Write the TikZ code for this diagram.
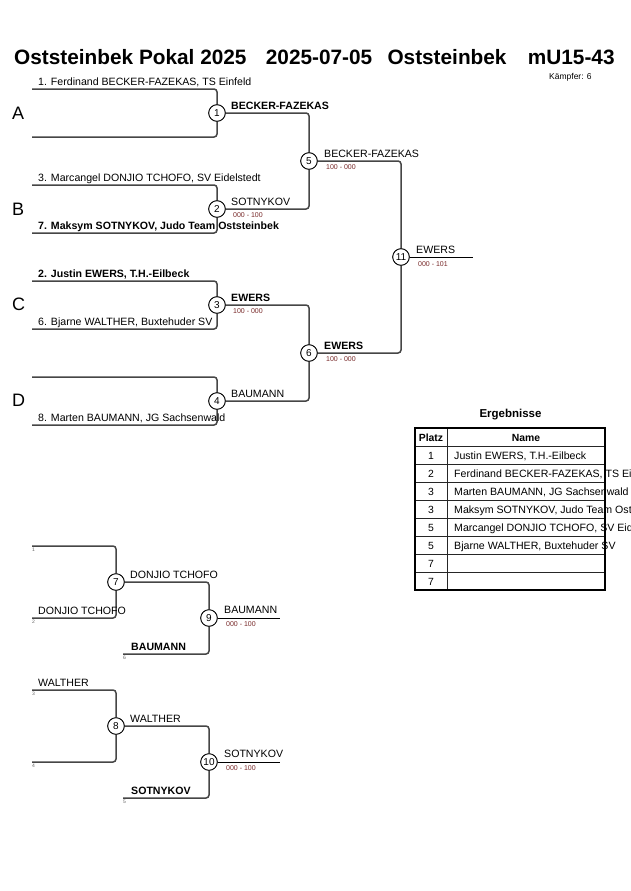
\documentclass[tikz,border=0pt]{standalone}
\usepackage{fontspec}
\setmainfont{Liberation Sans}
\definecolor{wirec}{RGB}{70,70,70}
\definecolor{scorec}{RGB}{120,40,40}
\begin{document}
\begin{tikzpicture}[x=1pt,y=-1pt,
  wire/.style={draw=wirec,line width=1.5pt,rounded corners=3pt},
  endwire/.style={draw=black,line width=1pt},
  match/.style={circle,draw=black,line width=0.8pt,fill=white,minimum size=16.5pt,inner sep=0pt,font=\fontsize{10}{10}\selectfont},
  nm/.style={anchor=base west,inner sep=0pt,font=\fontsize{10.6}{12}\selectfont},
  nmb/.style={nm,font=\fontsize{10.6}{12}\selectfont\bfseries},
  score/.style={anchor=base west,inner sep=0pt,text=scorec,font=\fontsize{7}{8}\selectfont},
  tiny/.style={anchor=base west,inner sep=0pt,text=black!60,font=\fontsize{5}{5}\selectfont},
  pool/.style={anchor=base west,inner sep=0pt,font=\fontsize{18}{20}\selectfont},
  ttl/.style={anchor=base west,inner sep=0pt,font=\fontsize{20.8}{22}\selectfont\bfseries},
  tcell/.style={anchor=base,inner sep=0pt,font=\fontsize{10.4}{12}\selectfont},
  tname/.style={anchor=base west,inner sep=0pt,font=\fontsize{10.6}{12}\selectfont}
]
\useasboundingbox[fill=white] (0,0) rectangle (630,891);

% title
\node[ttl] (t1) at (14,65) {Oststeinbek Pokal 2025};
\node[ttl] (t2) at (265.7,65) {2025-07-05};
\node[ttl] (t3) at (387.3,65) {Oststeinbek};
\node[ttl] (t4) at (527.7,65) {mU15-43};
\node[anchor=base west,inner sep=0pt,font=\fontsize{8.5}{10}\selectfont] (kf) at (549,79) {Kämpfer: 6};

% pool letters
\node[pool] (pA) at (12,119) {A};
\node[pool] (pB) at (12,215) {B};
\node[pool] (pC) at (12,310) {C};
\node[pool] (pD) at (12,406) {D};

% match circles
\node[match] (m1) at (217,113) {1};
\node[match] (m2) at (217,209) {2};
\node[match] (m3) at (217,305) {3};
\node[match] (m4) at (217,401) {4};
\node[match] (m5) at (309,161) {5};
\node[match] (m6) at (309,353) {6};
\node[match] (m11) at (401,257) {11};
\node[match] (m7) at (116,582) {7};
\node[match] (m8) at (116,726) {8};
\node[match] (m9) at (209,618) {9};
\node[match] (m10) at (209,762) {10};

% competitor line starts
\coordinate (a1) at (32,89);
\coordinate (a2) at (32,137);
\coordinate (b1) at (32,185);
\coordinate (b2) at (32,233);
\coordinate (c1) at (32,281);
\coordinate (c2) at (32,329);
\coordinate (d1) at (32,377);
\coordinate (d2) at (32,425);
\coordinate (r1) at (32,546);
\coordinate (r2) at (32,618);
\coordinate (r6) at (123,654);
\coordinate (r3) at (32,690);
\coordinate (r4) at (32,762);
\coordinate (r5) at (123,798);
\coordinate (e11) at (473,257);
\coordinate (e9) at (280,618);
\coordinate (e10) at (280,762);

% wires
\draw[wire] (a1) -| (m1);
\draw[wire] (a2) -| (m1);
\draw[wire] (b1) -| (m2);
\draw[wire] (b2) -| (m2);
\draw[wire] (c1) -| (m3);
\draw[wire] (c2) -| (m3);
\draw[wire] (d1) -| (m4);
\draw[wire] (d2) -| (m4);
\draw[wire] (m1) -| (m5);
\draw[wire] (m2) -| (m5);
\draw[wire] (m3) -| (m6);
\draw[wire] (m4) -| (m6);
\draw[wire] (m5) -| (m11);
\draw[wire] (m6) -| (m11);
\draw[endwire] (m11) -- (e11);
\draw[wire] (r1) -| (m7);
\draw[wire] (r2) -| (m7);
\draw[wire] (m7) -| (m9);
\draw[wire] (r6) -| (m9);
\draw[endwire] (m9) -- (e9);
\draw[wire] (r3) -| (m8);
\draw[wire] (r4) -| (m8);
\draw[wire] (m8) -| (m10);
\draw[wire] (r5) -| (m10);
\draw[endwire] (m10) -- (e10);

% redraw circles on top
\foreach \m/\t in {m1/1,m2/2,m3/3,m4/4,m5/5,m6/6,m11/11,m7/7,m8/8,m9/9,m10/10}
  \node[match] at (\m) {\t};

% competitor labels
\node[nm] (la1) at (38,85.3) {1. Ferdinand BECKER-FAZEKAS, TS Einfeld};
\node[nm] (lb1) at (38,181.3) {3. Marcangel DONJIO TCHOFO, SV Eidelstedt};
\node[nmb] (lb2) at (38,229.3) {7. Maksym SOTNYKOV, Judo Team Oststeinbek};
\node[nmb] (lc1) at (38,277.3) {2. Justin EWERS, T.H.-Eilbeck};
\node[nm] (lc2) at (38,325.3) {6. Bjarne WALTHER, Buxtehuder SV};
\node[nm] (ld2) at (38,421.3) {8. Marten BAUMANN, JG Sachsenwald};

% match results
\node[nmb] (w1) at (231,109.3) {BECKER-FAZEKAS};
\node[nm] (w2) at (231,205.3) {SOTNYKOV};
\node[score] (s2) at (233,217.5) {000 - 100};
\node[nmb] (w3) at (231,301.3) {EWERS};
\node[score] (s3) at (233,313.5) {100 - 000};
\node[nm] (w4) at (231,397.3) {BAUMANN};
\node[nm] (w5) at (324,157.3) {BECKER-FAZEKAS};
\node[score] (s5) at (326,169.5) {100 - 000};
\node[nmb] (w6) at (324,349.3) {EWERS};
\node[score] (s6) at (326,361.5) {100 - 000};
\node[nm] (w11) at (416,253.3) {EWERS};
\node[score] (s11) at (418,266) {000 - 101};

% repechage labels
\node[tiny] (n1) at (32,551) {1};
\node[tiny] (n2) at (32,623) {2};
\node[nm] (lr2) at (38,614) {DONJIO TCHOFO};
\node[nm] (w7) at (130,578) {DONJIO TCHOFO};
\node[nmb] (lr6) at (131,650) {BAUMANN};
\node[tiny] (n6) at (123,659) {6};
\node[nm] (w9) at (224,613) {BAUMANN};
\node[score] (s9) at (226,626) {000 - 100};
\node[tiny] (n3) at (32,695) {3};
\node[tiny] (n4) at (32,767) {4};
\node[nm] (lr3) at (38,686.5) {WALTHER};
\node[nm] (w8) at (130,722.5) {WALTHER};
\node[nmb] (lr5) at (131,794) {SOTNYKOV};
\node[tiny] (n5) at (123,803) {5};
\node[nm] (w10) at (224,757.5) {SOTNYKOV};
\node[score] (s10) at (226,770) {000 - 100};

% results table
\node[anchor=base,inner sep=0pt,font=\fontsize{11.5}{12}\selectfont\bfseries] (erg) at (510.5,417.5) {Ergebnisse};
\foreach \y in {446,464,482,500,518,536,554,572}
  \draw[black!85,line width=1pt] (415,\y) -- (605,\y);
\draw[black!85,line width=1pt] (447,428) -- (447,590);
\draw[black,line width=1.8pt] (415,428) rectangle (605,590);
\node[tcell,font=\fontsize{10.4}{12}\selectfont\bfseries] (hp) at (431,441) {Platz};
\node[tcell,font=\fontsize{10.4}{12}\selectfont\bfseries] (hn) at (526,441) {Name};
\foreach \i/\p/\n in {0/1/{Justin EWERS, T.H.-Eilbeck},1/2/{Ferdinand BECKER-FAZEKAS, TS Einfeld},2/3/{Marten BAUMANN, JG Sachsenwald},3/3/{Maksym SOTNYKOV, Judo Team Oststeinbek},4/5/{Marcangel DONJIO TCHOFO, SV Eidelstedt},5/5/{Bjarne WALTHER, Buxtehuder SV},6/7/{},7/7/{}}{
  \node[tcell] at (431,459+18*\i) {\p};
  \node[tname] at (454,459+18*\i) {\n};
}
\end{tikzpicture}
\end{document}
